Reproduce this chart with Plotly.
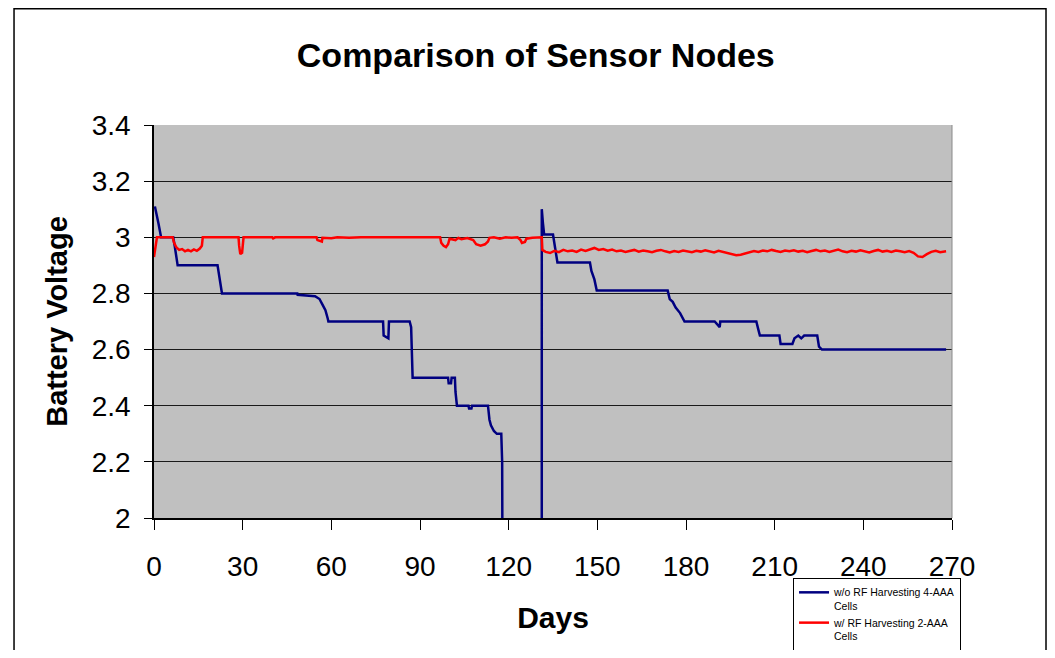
import plotly.graph_objects as go

# w/o RF harvesting, 4-AAA cells (step-like voltage record)
blue_days = [
    0.3, 1.0, 1.5, 2.4, 6.5, 7.0, 7.5, 8.0, 21.5, 22.0, 22.5, 23.0,
    48.5, 48.6, 54.5, 56.0, 57.0, 58.0, 58.8, 59.0,
    77.5, 77.7, 79.3, 79.5, 86.5, 87.0, 87.5,
    99.5, 99.7, 100.5, 100.7, 101.8, 102.0, 102.3, 102.5,
    106.4, 106.6, 107.4, 107.6, 113.0, 113.5, 114.0, 115.0, 116.0, 117.5, 117.8, 118.0, 118.0,
    131.2, 131.2, 131.6, 132.0, 135.0, 135.5, 136.5,
    147.5, 148.0, 149.0, 149.8, 173.8, 174.5, 175.5, 176.5, 178.0, 179.5,
    189.7, 190.5, 191.4, 191.6, 203.8, 204.5, 205.0,
    211.6, 212.0, 216.0, 216.7, 218.0, 219.0, 220.0, 224.4, 225.0, 226.0, 268.0,
]
blue_volts = [
    3.11, 3.08, 3.05, 3.0, 3.0, 2.97, 2.94, 2.9, 2.9, 2.87, 2.83, 2.8,
    2.8, 2.795, 2.79, 2.78, 2.76, 2.74, 2.71, 2.7,
    2.7, 2.65, 2.64, 2.7, 2.7, 2.68, 2.5,
    2.5, 2.48, 2.48, 2.5, 2.5, 2.45, 2.42, 2.4,
    2.4, 2.39, 2.39, 2.4, 2.4, 2.35, 2.33, 2.31, 2.3, 2.3, 2.2, 2.0, 1.5,
    1.5, 3.1, 3.05, 3.01, 3.01, 2.97, 2.91,
    2.91, 2.88, 2.85, 2.81, 2.81, 2.78, 2.77, 2.75, 2.73, 2.7,
    2.7, 2.69, 2.68, 2.7, 2.7, 2.67, 2.65,
    2.65, 2.62, 2.62, 2.64, 2.65, 2.64, 2.65, 2.65, 2.61, 2.6, 2.6,
]

# w/ RF harvesting, 2-AAA cells (noisy, near-flat record)
red_days = [
    0.0, 0.5, 1.0, 6.3, 6.8, 7.5, 8.5, 9.5, 10.5, 11.5, 12.5, 13.5, 14.5, 15.5, 16.2, 16.5,
    20.0, 24.0, 28.6, 28.8, 29.2, 29.8, 30.0, 30.3, 34.0, 38.0, 40.0, 40.3, 41.0, 45.0, 50.0,
    55.0, 55.3, 56.8, 57.0, 60.0, 62.0, 66.0, 70.0, 74.0, 78.0, 82.0, 86.0, 90.0, 94.0, 96.8,
    97.2, 98.0, 98.8, 99.5, 100.0, 102.0, 103.0, 104.0, 106.0, 108.0, 109.0, 110.5, 112.0,
    113.0, 113.5, 115.0, 117.0, 119.0, 121.0, 123.0, 124.0, 124.5, 125.5, 126.0, 128.0,
    130.0, 131.2, 131.4, 132.5, 134.0, 135.5, 137.0, 138.5, 140.0, 141.5, 143.0, 144.5,
    146.0, 147.5, 149.0, 150.5, 152.0, 153.5, 155.0, 156.5, 158.0, 159.5, 161.0, 162.5,
    164.0, 165.5, 167.0, 168.5, 170.0, 171.5, 173.0, 174.5, 176.0, 177.5, 179.0, 180.5,
    182.0, 183.5, 185.0, 186.5, 188.0, 189.5, 191.0, 192.5, 194.0, 195.5, 197.0, 198.5,
    200.0, 201.5, 203.0, 204.5, 206.0, 207.5, 209.0, 210.5, 212.0, 213.5, 215.0, 216.5,
    218.0, 219.5, 221.0, 222.5, 224.0, 225.5, 227.0, 228.5, 230.0, 231.5, 233.0, 234.5,
    236.0, 237.5, 239.0, 240.5, 242.0, 243.5, 245.0, 246.5, 248.0, 249.5, 251.0, 252.5,
    254.0, 255.5, 257.0, 258.5, 260.0, 261.5, 263.0, 264.5, 266.0, 268.0,
]
red_volts = [
    2.93, 2.97, 3.0, 3.0, 2.98, 2.965, 2.955, 2.958, 2.95, 2.955, 2.95, 2.957, 2.952, 2.96, 2.97, 3.0,
    3.0, 3.0, 3.0, 2.97, 2.94, 2.945, 2.99, 3.0, 3.0, 3.0, 3.0, 2.996, 3.0, 3.0, 3.0,
    3.0, 2.99, 2.985, 2.998, 2.997, 3.0, 2.998, 3.0, 3.0, 3.0, 2.998, 3.0, 3.0, 3.0, 3.0,
    2.98, 2.97, 2.965, 2.975, 2.995, 2.99, 2.998, 2.993, 2.997, 2.99, 2.975, 2.97, 2.975,
    2.985, 2.998, 3.0, 2.995, 3.0, 2.998, 3.0, 2.99, 2.98, 2.983, 2.995, 2.998,
    3.0, 3.0, 2.955, 2.948, 2.944, 2.952, 2.947, 2.955, 2.95, 2.953, 2.948, 2.956,
    2.951, 2.957, 2.962, 2.955, 2.958, 2.952, 2.956, 2.95, 2.953, 2.948, 2.952, 2.955,
    2.949, 2.953, 2.95, 2.947, 2.952, 2.955, 2.95, 2.946, 2.951, 2.948, 2.953, 2.95,
    2.947, 2.952, 2.949, 2.954, 2.95, 2.946, 2.952, 2.948, 2.944, 2.94, 2.936, 2.938,
    2.942, 2.947, 2.951, 2.948, 2.953, 2.95, 2.955, 2.951, 2.948, 2.953, 2.95, 2.954,
    2.949, 2.952, 2.947, 2.951, 2.955, 2.95, 2.953, 2.948, 2.952, 2.956, 2.95, 2.947,
    2.952, 2.949, 2.954, 2.95, 2.946, 2.951, 2.955, 2.949, 2.952, 2.948, 2.953, 2.95,
    2.947, 2.951, 2.945, 2.932, 2.93, 2.94, 2.948, 2.952, 2.947, 2.95,
]

x_ticks = [0, 30, 60, 90, 120, 150, 180, 210, 240, 270]
y_ticks = [2.0, 2.2, 2.4, 2.6, 2.8, 3.0, 3.2, 3.4]
y_tick_text = ["2", "2.2", "2.4", "2.6", "2.8", "3", "3.2", "3.4"]

FONT = "Liberation Sans, Arial, sans-serif"

fig = go.Figure()
fig.add_trace(go.Scatter(
    x=blue_days, y=blue_volts, mode="lines",
    line=dict(color="#000080", width=2.5),
    name="w/o RF Harvesting 4-AAA<br>Cells",
))
fig.add_trace(go.Scatter(
    x=red_days, y=red_volts, mode="lines",
    line=dict(color="#FF0000", width=2.5),
    name="w/ RF Harvesting 2-AAA<br>Cells",
))

# outer chart frame (bottom edge runs off the page, as in the original)
fig.add_shape(type="rect", xref="paper", yref="paper",
              x0=-0.1754, x1=1.1178, y0=-0.40, y1=1.2958,
              line=dict(color="black", width=1.5), layer="above")
# light border on the right side of the plot area
fig.add_shape(type="line", xref="paper", yref="paper",
              x0=1, x1=1, y0=0, y1=1,
              line=dict(color="#8a8a8a", width=1), layer="above")

# the page body adds an 8px margin all round; keep the page free of scrollbars
fig.update_layout(
    width=1039, height=642,
    margin=dict(l=146, r=95, t=117, b=132, autoexpand=False),
    paper_bgcolor="white",
    plot_bgcolor="#C0C0C0",
    font=dict(family=FONT, color="black"),
    title=dict(text="<b>Comparison of Sensor Nodes</b>", x=0.508, xanchor="center",
               y=0.927, yanchor="middle", font=dict(size=34, family=FONT)),
    xaxis=dict(
        range=[0, 270], tickvals=x_ticks, showgrid=False, zeroline=False,
        showline=True, linecolor="black", linewidth=1.5,
        ticks="outside", ticklen=10, tickcolor="black",
        tickfont=dict(size=28), ticklabelstandoff=13,
        title=dict(text="<b>Days</b>", font=dict(size=30), standoff=26),
    ),
    yaxis=dict(
        range=[2.0, 3.4], tickvals=y_ticks, ticktext=y_tick_text,
        showgrid=True, gridcolor="#1a1a1a", gridwidth=1, zeroline=False,
        showline=True, linecolor="black", linewidth=1.5,
        ticks="outside", ticklen=8, tickcolor="black",
        tickfont=dict(size=28), ticklabelstandoff=8,
        title=dict(text="<b>Battery Voltage</b>", font=dict(size=29), standoff=16),
    ),
    legend=dict(
        x=0.8008, y=-0.1527, xanchor="left", yanchor="top",
        bgcolor="white", bordercolor="black", borderwidth=1,
        font=dict(size=10.5, family=FONT), itemwidth=30, valign="top",
        tracegroupgap=0,
    ),
    showlegend=True,
)

fig.write_html("out.html")
